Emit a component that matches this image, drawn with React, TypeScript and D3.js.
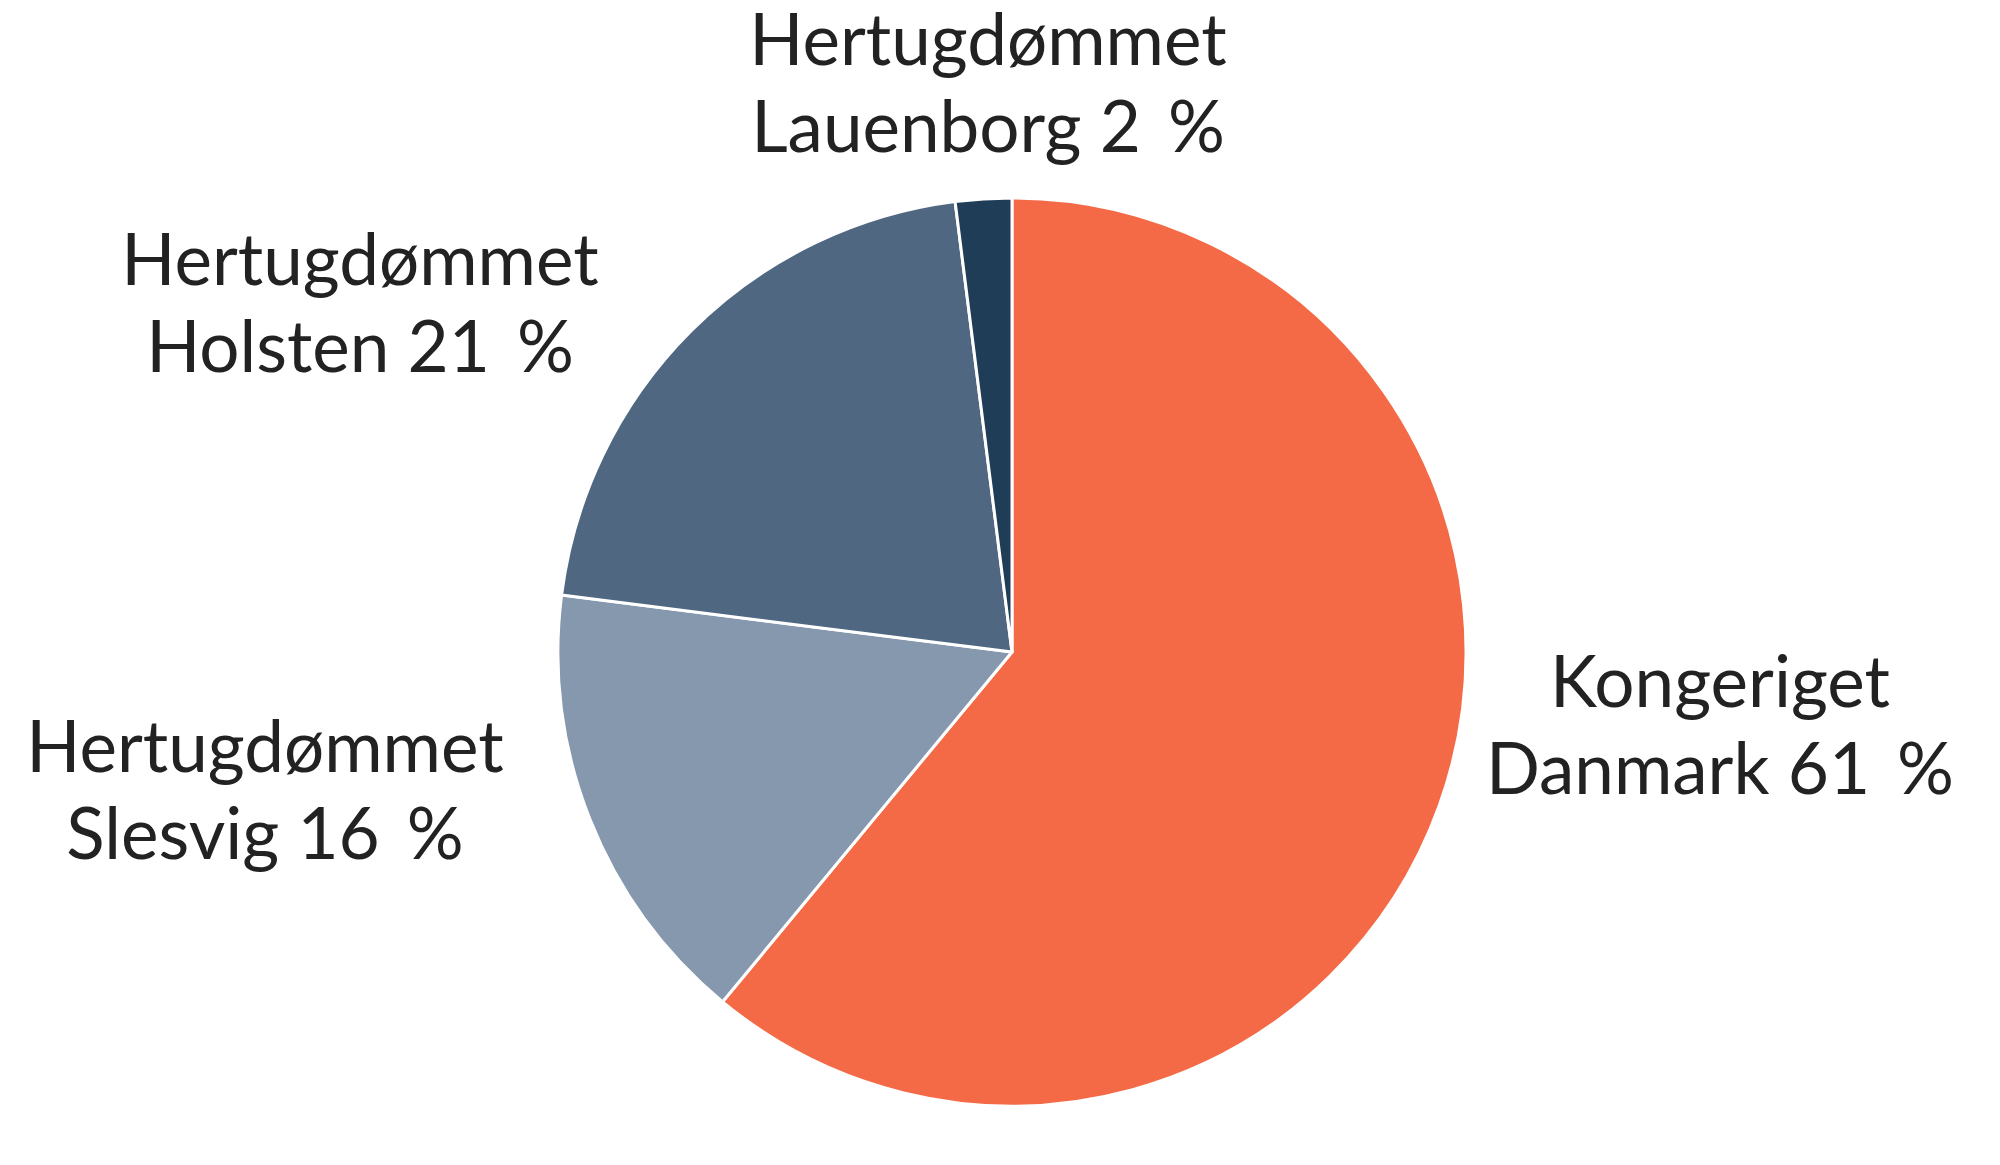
import React from "react";
import * as d3 from "d3";

const categories = ["Kongeriget Danmark", "Hertugdømmet Slesvig", "Hertugdømmet Holsten", "Hertugdømmet Lauenborg"];
const values = [61, 16, 21, 2];
const labelLines = [
  ["Kongeriget", "Danmark 61\u00A0\u2009%"],
  ["Hertugdømmet", "Slesvig 16\u00A0\u2009%"],
  ["Hertugdømmet", "Holsten 21\u00A0\u2009%"],
  ["Hertugdømmet", "Lauenborg 2\u00A0\u2009%"],
];
const colors = ["#F46A46", "#8698AE", "#4F6781", "#1F3D56"];

// label anchor layout (center x, first baseline y)
const labelPos = [
  [1720, 707],
  [265, 772],
  [360, 285],
  [988, 65],
];

const W = 2000;
const H = 1165;
const CX = 1012;
const CY = 652;
const R = 454;

export default function App() {
  const pie = d3.pie<number>().sort(null).value((d) => d);
  const arcs = pie(values);
  const arc = d3.arc<d3.PieArcDatum<number>>().innerRadius(0).outerRadius(R);
  return (
    <svg width={W} height={H} style={{ position: "absolute", left: 0, top: 0, background: "#fff" }}>
      <g transform={`translate(${CX},${CY})`}>
        {arcs.map((a, i) => (
          <path key={categories[i]} d={arc(a) || ""} fill={colors[i]} stroke="#fff" strokeWidth={3} strokeLinejoin="round" />
        ))}
      </g>
      {labelLines.map((lines, i) => (
        <text
          key={categories[i]}
          x={labelPos[i][0]}
          y={labelPos[i][1]}
          textAnchor="middle"
          fontFamily="Lato, 'Open Sans', sans-serif"
          fontSize={71}
          fill="#222"
        >
          {lines.map((l, j) => (
            <tspan key={j} x={labelPos[i][0]} dy={j === 0 ? 0 : 87}>
              {l}
            </tspan>
          ))}
        </text>
      ))}
    </svg>
  );
}
